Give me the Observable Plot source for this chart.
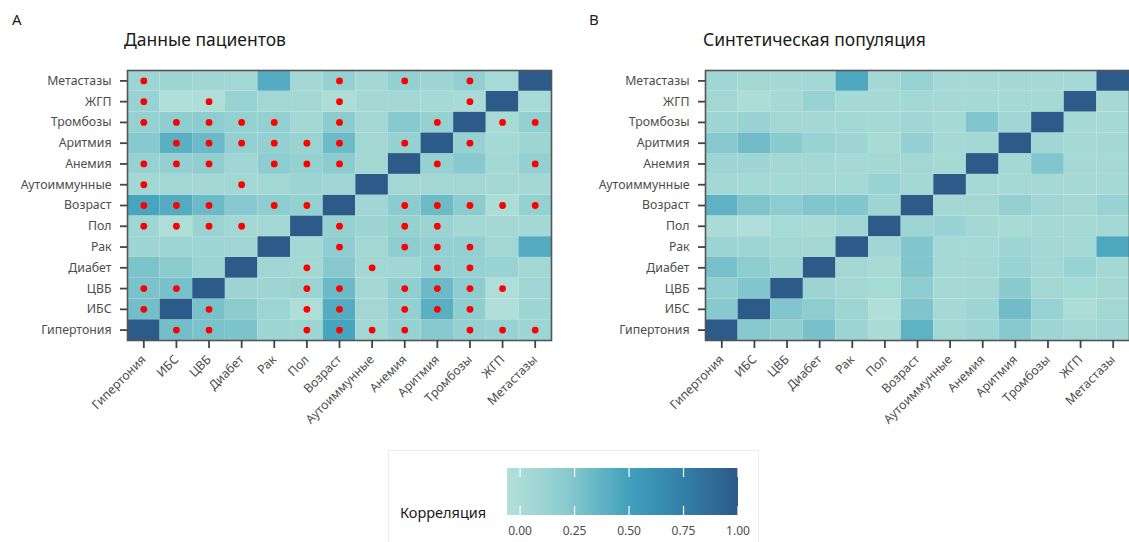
<!DOCTYPE html>
<html>
<head>
<meta charset="utf-8">
<script src="https://cdn.jsdelivr.net/npm/d3@7"></script>
<script src="https://cdn.jsdelivr.net/npm/@observablehq/plot@0.6"></script>
<style>
  html, body { margin: 0; padding: 0; background: #fff; overflow: hidden; }
  body { width: 1129px; height: 542px; position: relative; font-family: "Noto Sans", "Open Sans", sans-serif; }
  .abs { position: absolute; }
  .tag { font-size: 15px; color: #222; }
  .title { font-size: 17.5px; color: #1a1a1a; }
  #left svg, #right svg { max-width: none !important; display: block; }
</style>
</head>
<body>
<div class="abs tag" style="left:12px; top:9px;">A</div>
<div class="abs title" style="left:124px; top:27px;">Данные пациентов</div>
<div class="abs tag" style="left:589px; top:9px;">B</div>
<div class="abs title" style="left:703px; top:27px;">Синтетическая популяция</div>
<div id="left" class="abs" style="left:0px; top:0px; width:556px; height:440px;"></div>
<div id="right" class="abs" style="left:578px; top:0px; width:553px; height:440px;"></div>
<div id="legend" class="abs" style="left:388px; top:450px;"></div>
<script>
// ---------- data ----------
const variables = ["Гипертония","ИБС","ЦВБ","Диабет","Рак","Пол","Возраст","Аутоиммунные","Анемия","Аритмия","Тромбозы","ЖГП","Метастазы"];

// Patient data correlation (rows/cols in the order of `variables`)
const patientCorr = [
  [1.00, 0.30, 0.27, 0.26, 0.08, 0.08, 0.47, 0.06, 0.13, 0.22, 0.14, 0.12, 0.09],
  [0.30, 1.00, 0.28, 0.20, 0.09,-0.02, 0.42, 0.06, 0.15, 0.40, 0.18,-0.03, 0.08],
  [0.27, 0.28, 1.00, 0.10, 0.08, 0.11, 0.33, 0.05, 0.17, 0.33, 0.19,-0.02, 0.07],
  [0.26, 0.20, 0.10, 1.00, 0.07, 0.05, 0.22, 0.06, 0.07, 0.15, 0.14, 0.12, 0.06],
  [0.08, 0.09, 0.08, 0.07, 1.00, 0.05, 0.18, 0.06, 0.19, 0.15, 0.15, 0.06, 0.42],
  [0.08,-0.02, 0.11, 0.05, 0.05, 1.00, 0.14, 0.10, 0.14, 0.11, 0.05, 0.05, 0.05],
  [0.47, 0.42, 0.33, 0.22, 0.18, 0.14, 1.00, 0.07, 0.20, 0.32, 0.20,-0.01, 0.14],
  [0.06, 0.06, 0.05, 0.06, 0.06, 0.10, 0.07, 1.00, 0.06, 0.06, 0.06, 0.05, 0.05],
  [0.13, 0.15, 0.17, 0.07, 0.19, 0.14, 0.20, 0.06, 1.00, 0.14, 0.22, 0.05, 0.15],
  [0.22, 0.40, 0.33, 0.15, 0.15, 0.11, 0.32, 0.06, 0.14, 1.00, 0.14, 0.04, 0.08],
  [0.14, 0.18, 0.19, 0.14, 0.15, 0.05, 0.20, 0.06, 0.22, 0.14, 1.00, 0.01, 0.16],
  [0.12,-0.03,-0.02, 0.12, 0.06, 0.05,-0.01, 0.05, 0.05, 0.04, 0.01, 1.00, 0.03],
  [0.09, 0.08, 0.07, 0.06, 0.42, 0.05, 0.14, 0.05, 0.15, 0.08, 0.16, 0.03, 1.00]
];

// Significance markers (1 = red dot) for patient data
const patientSig = [
  [0,1,1,0,0,1,1,1,1,0,1,1,1],
  [1,0,1,0,0,1,1,0,1,1,1,0,0],
  [1,1,0,0,0,1,1,0,1,1,1,1,0],
  [0,0,0,0,0,1,0,1,0,1,1,0,0],
  [0,0,0,0,0,0,1,0,1,1,1,0,0],
  [1,1,1,1,0,0,1,0,1,1,0,0,0],
  [1,1,1,0,1,1,0,0,1,1,1,1,1],
  [1,0,0,1,0,0,0,0,0,0,0,0,0],
  [1,1,1,0,1,1,1,0,0,1,0,0,1],
  [0,1,1,1,1,1,1,0,1,0,1,0,0],
  [1,1,1,1,1,0,1,0,0,1,0,1,1],
  [1,0,1,0,0,0,1,0,0,0,1,0,0],
  [1,0,0,0,0,0,1,0,1,0,1,0,0]
];

// Synthetic population correlation
const synthCorr = [
  [1.00, 0.22, 0.17, 0.28, 0.10, 0.00, 0.38, 0.05, 0.09, 0.22, 0.08, 0.06, 0.07],
  [0.22, 1.00, 0.24, 0.19, 0.09,-0.03, 0.25, 0.04, 0.08, 0.31, 0.12,-0.01, 0.06],
  [0.17, 0.24, 1.00, 0.10, 0.06, 0.03, 0.19, 0.04, 0.05, 0.21, 0.06, 0.04, 0.05],
  [0.28, 0.19, 0.10, 1.00, 0.06, 0.01, 0.24, 0.04, 0.05, 0.12, 0.05, 0.12, 0.05],
  [0.10, 0.09, 0.06, 0.06, 1.00, 0.07, 0.24, 0.04, 0.04, 0.08, 0.05, 0.04, 0.45],
  [0.00,-0.03, 0.03, 0.01, 0.07, 1.00, 0.09, 0.12, 0.05, 0.02, 0.04, 0.04, 0.05],
  [0.38, 0.25, 0.19, 0.24, 0.24, 0.09, 1.00, 0.05, 0.06, 0.15, 0.07, 0.05, 0.12],
  [0.05, 0.04, 0.04, 0.04, 0.04, 0.12, 0.05, 1.00, 0.04, 0.04, 0.04, 0.04, 0.04],
  [0.09, 0.08, 0.05, 0.05, 0.04, 0.05, 0.06, 0.04, 1.00, 0.05, 0.24, 0.04, 0.04],
  [0.22, 0.31, 0.21, 0.12, 0.08, 0.02, 0.15, 0.04, 0.05, 1.00, 0.07, 0.04, 0.05],
  [0.08, 0.12, 0.06, 0.05, 0.05, 0.04, 0.07, 0.04, 0.24, 0.07, 1.00, 0.04, 0.04],
  [0.06,-0.01, 0.04, 0.12, 0.04, 0.04, 0.05, 0.04, 0.04, 0.04, 0.04, 1.00, 0.04],
  [0.07, 0.06, 0.05, 0.05, 0.45, 0.05, 0.12, 0.04, 0.04, 0.05, 0.04, 0.04, 1.00]
];

const legendTicks = [0, 0.25, 0.5, 0.75, 1];
const legendTitle = "Корреляция";

// ---------- colour ----------
const colorStops = [-0.06, 0.2, 0.5, 0.75, 1];
const colorRange = ["#b4e1d9", "#8ccccf", "#41a1bd", "#337fa8", "#2c5a89"];
const colorFn = d3.scaleLinear().domain(colorStops).range(colorRange).interpolate(d3.interpolateRgb).clamp(true);
const cMin = colorStops[0], cMax = colorStops[colorStops.length - 1];

function toCells(m) {
  return m.flatMap((row, i) => row.map((v, j) => ({row: variables[i], col: variables[j], value: v})));
}
function toSig(s) {
  return s.flatMap((row, i) => row.flatMap((v, j) => v ? [{row: variables[i], col: variables[j]}] : []));
}

const font = '"Noto Sans", "Open Sans", sans-serif';

function heat(cells, sig, width, marginRight) {
  const marks = [
    Plot.cell(cells, {x: "col", y: "row", fill: "value", inset: 0}),
  ];
  if (sig) marks.push(Plot.dot(sig, {x: "col", y: "row", r: 3.4, fill: "#ff0000", stroke: null}));
  marks.push(Plot.frame({stroke: "#555", strokeWidth: 1.6}));
  marks.push(Plot.axisY({tickSize: 7, tickPadding: 9, strokeWidth: 1.8, stroke: "#444", fill: "#4d4d4d", fontSize: 12.3, label: null}));
  marks.push(Plot.axisX({tickSize: 8, tickPadding: 9, tickRotate: -45, strokeWidth: 1.8, stroke: "#444", fill: "#4d4d4d", fontSize: 12.3, label: null}));
  const svg = Plot.plot({
    width, height: 440,
    marginLeft: 127, marginRight, marginTop: 70, marginBottom: 100,
    style: {fontFamily: font, background: "transparent", overflow: "visible"},
    x: {domain: variables, padding: 0, round: false},
    y: {domain: variables.slice().reverse(), padding: 0, round: false},
    color: {type: "linear", domain: [cMin, cMax], interpolate: t => colorFn(cMin + t * (cMax - cMin)), clamp: true},
    marks
  });
  svg.style.maxWidth = "none";
  svg.style.width = width + "px";
  svg.style.height = "440px";
  return svg;
}

document.getElementById("left").append(heat(toCells(patientCorr), toSig(patientSig), 556, 5));
document.getElementById("right").append(heat(toCells(synthCorr), null, 553, 2));

// ---------- legend ----------
(function () {
  const W = 370, H = 95;
  const svg = d3.create("svg").attr("width", W).attr("height", H)
    .style("font-family", font).style("overflow", "visible");
  svg.append("rect").attr("x", 0.5).attr("y", 0.5).attr("width", W).attr("height", H)
    .attr("fill", "none").attr("stroke", "#ededed");
  const x0 = 119, x1 = 350; // bar extents
  const xs = d3.scaleLinear().domain([cMin, cMax]).range([x0, x1]);
  const grad = svg.append("defs").append("linearGradient").attr("id", "lg")
    .attr("x1", "0%").attr("x2", "100%").attr("y1", "0%").attr("y2", "0%");
  d3.range(0, 1.0001, 0.02).forEach(t => {
    grad.append("stop").attr("offset", (t * 100) + "%").attr("stop-color", colorFn(cMin + t * (cMax - cMin)));
  });
  const by = 18, bh = 47;
  svg.append("rect").attr("x", x0).attr("y", by).attr("width", x1 - x0).attr("height", bh).attr("fill", "url(#lg)");
  legendTicks.forEach(v => {
    const x = xs(v);
    svg.append("line").attr("x1", x).attr("x2", x).attr("y1", by).attr("y2", by + 9).attr("stroke", "#fff").attr("stroke-width", 1.2);
    svg.append("line").attr("x1", x).attr("x2", x).attr("y1", by + bh - 9).attr("y2", by + bh).attr("stroke", "#fff").attr("stroke-width", 1.2);
    svg.append("text").attr("x", x).attr("y", by + bh + 20).attr("text-anchor", "middle")
      .attr("font-size", 12).attr("fill", "#4d4d4d").text(v.toFixed(2));
  });
  svg.append("text").attr("x", 12).attr("y", 68).attr("font-size", 14.5).attr("fill", "#1a1a1a").text(legendTitle);
  document.getElementById("legend").append(svg.node());
})();
</script>
</body>
</html>
